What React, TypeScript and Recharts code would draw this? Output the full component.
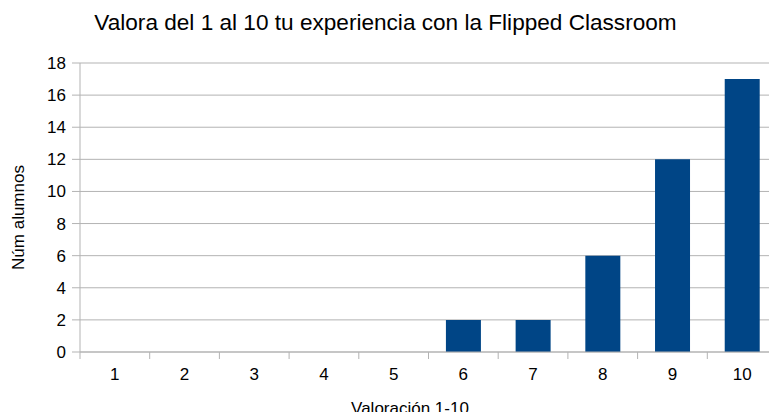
import React from 'react';
import { BarChart, Bar, XAxis, YAxis, CartesianGrid } from 'recharts';

const categories = ['1', '2', '3', '4', '5', '6', '7', '8', '9', '10'];
const alumnos = [0, 0, 0, 0, 0, 2, 2, 6, 12, 17];
const yTicks = [0, 2, 4, 6, 8, 10, 12, 14, 16, 18];

const chartTitle = 'Valora del 1 al 10 tu experiencia con la Flipped Classroom';
const xTitle = 'Valoración 1-10';
const yTitle = 'Núm alumnos';

const data = categories.map((c, i) => ({ cat: c, alumnos: alumnos[i] }));

const FONT = '"Liberation Sans", Arial, sans-serif';
const GRID = '#b3b3b3';
const TICK_SIZE = 7;
const TICK_MARGIN = 9;
const TICK_FONT = 17;

function XTick(props: any) {
  const { x, y, payload, width, visibleTicksCount } = props;
  let half = payload && typeof payload.offset === 'number' && payload.offset > 0 ? payload.offset : 0;
  if (!half && width && visibleTicksCount) half = width / visibleTicksCount / 2;
  const axisY = y - TICK_SIZE - TICK_MARGIN;
  return (
    <g>
      <line x1={x - half} x2={x - half} y1={axisY} y2={axisY + TICK_SIZE} stroke={GRID} strokeWidth={1} />
      <text x={x} y={y} dy="0.71em" textAnchor="middle" fill="#000" fontSize={TICK_FONT} fontFamily={FONT}>
        {payload.value}
      </text>
    </g>
  );
}

export default function App() {
  return (
    <div style={{ position: 'fixed', left: 0, top: 0, width: 769, height: 412, overflow: 'hidden', background: '#fff' }}>
      <BarChart
        width={777}
        height={412}
        data={data}
        margin={{ top: 63, right: 0, bottom: 0, left: 0 }}
        barCategoryGap="25%"
      >
        <CartesianGrid vertical={false} stroke={GRID} />
        <XAxis
          dataKey="cat"
          height={60}
          axisLine={{ stroke: GRID }}
          tickLine={false}
          tickSize={TICK_SIZE}
          tickMargin={TICK_MARGIN}
          tick={<XTick />}
          interval={0}
        />
        <YAxis
          width={80}
          domain={[0, 18]}
          ticks={yTicks}
          interval={0}
          axisLine={{ stroke: GRID }}
          tickLine={{ stroke: GRID }}
          tickSize={8}
          tickMargin={6}
          tick={{ fill: '#000', fontSize: TICK_FONT, fontFamily: FONT }}
        />
        <Bar dataKey="alumnos" fill="#004586" isAnimationActive={false} />
        <text x={385.5} y={30} textAnchor="middle" fontSize={22.6} fontFamily={FONT} fill="#000">
          {chartTitle}
        </text>
        <text
          x={18}
          y={217.5}
          transform="rotate(-90, 18, 217.5)"
          textAnchor="middle"
          dominantBaseline="central"
          fontSize={17}
          fontFamily={FONT}
          fill="#000"
        >
          {yTitle}
        </text>
        <text x={410} y={414} textAnchor="middle" fontSize={17} fontFamily={FONT} fill="#000">
          {xTitle}
        </text>
      </BarChart>
    </div>
  );
}
